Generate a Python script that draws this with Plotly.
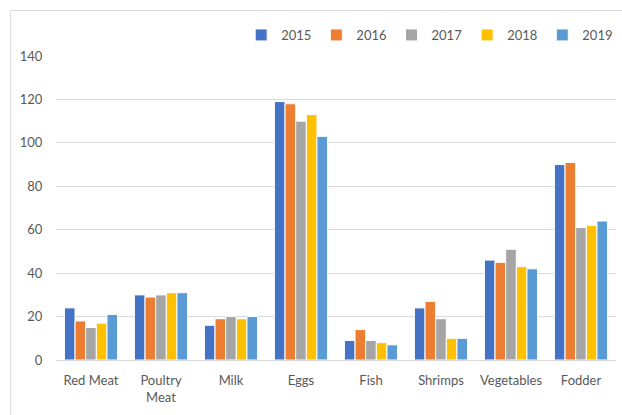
import plotly.graph_objects as go

categories = ["Red Meat", "Poultry<br>Meat", "Milk", "Eggs", "Fish", "Shrimps", "Vegetables", "Fodder"]
years = ["2015", "2016", "2017", "2018", "2019"]
v2015 = [24, 30, 16, 119, 9, 24, 46, 90]
v2016 = [18, 29, 19, 118, 14, 27, 45, 91]
v2017 = [15, 30, 20, 110, 9, 19, 51, 61]
v2018 = [17, 31, 19, 113, 8, 10, 43, 62]
v2019 = [21, 31, 20, 103, 7, 10, 42, 64]
colors = ["#4472C4", "#ED7D31", "#A5A5A5", "#FFC000", "#5B9BD5"]
y_ticks = [0, 20, 40, 60, 80, 100, 120, 140]

series = [v2015, v2016, v2017, v2018, v2019]

fig = go.Figure()
for name, vals, col in zip(years, series, colors):
    fig.add_trace(go.Bar(
        x=categories, y=vals, name=name,
        marker=dict(color=col, line=dict(color="white", width=1)),
    ))

W, H = 622, 415
ml, mr, mt, mb = 56, 4, 56, 55
pw, ph = W - ml - mr, H - mt - mb

def px_x(p):
    return (p - ml) / pw

def px_y(p):
    return 1 - (p - mt) / ph

fig.update_layout(
    width=W, height=H,
    margin=dict(l=ml, r=mr, t=mt, b=mb, pad=0),
    paper_bgcolor="white", plot_bgcolor="white",
    barmode="group", bargap=0.24, bargroupgap=0,
    font=dict(family="Lato, Open Sans, sans-serif", size=13, color="#595959"),
    legend=dict(orientation="h", x=px_x(431), xanchor="center", y=px_y(35), yanchor="middle",
                itemwidth=30, font=dict(size=13, color="#595959"),
                bgcolor="rgba(0,0,0,0)", traceorder="normal"),
    xaxis=dict(showgrid=False, showline=True, linecolor="#d9d9d9", linewidth=1,
               ticks="outside", ticklen=8, tickcolor="rgba(0,0,0,0)",
               tickfont=dict(size=13, color="#595959")),
    yaxis=dict(range=[0, 140], tickvals=y_ticks, showgrid=True, gridcolor="#d9d9d9",
               gridwidth=1, zeroline=False, showline=False,
               ticks="outside", ticklen=10, tickcolor="rgba(0,0,0,0)",
               tickfont=dict(size=13, color="#595959")),
    shapes=[dict(type="rect", xref="paper", yref="paper",
                 x0=px_x(10.5), x1=px_x(640), y0=px_y(430), y1=px_y(10.5),
                 line=dict(color="#d9d9d9", width=1), fillcolor="rgba(0,0,0,0)",
                 layer="below")],
)

fig.write_html("out.html", config={"displayModeBar": False},
               post_script="document.body.style.margin='0';document.body.style.overflow='hidden';")
